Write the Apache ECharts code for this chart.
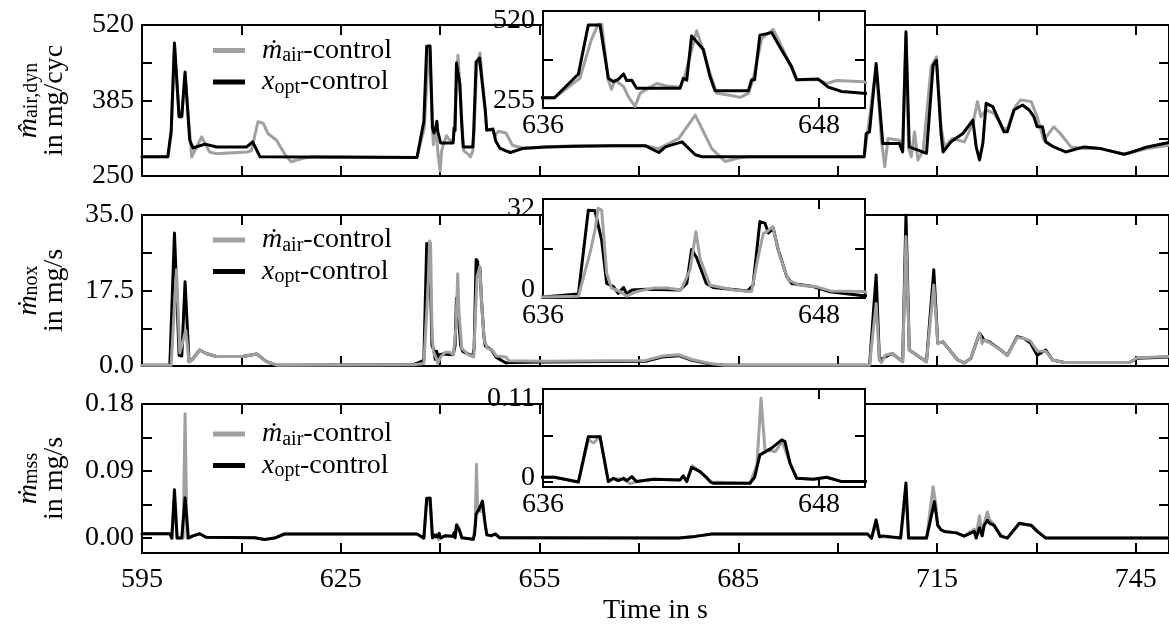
<!DOCTYPE html>
<html>
<head>
<meta charset="utf-8">
<script src="https://cdn.jsdelivr.net/npm/echarts@6/dist/echarts.min.js"></script>
<style>
  html, body { margin: 0; padding: 0; background: #fff; }
  #chart { width: 1169px; height: 626px; }
</style>
</head>
<body>
<div id="chart"></div>
<script>
// ---- time axis ----
const TIME_RANGE = [595, 750];
const TIME_TICKS = [595, 610, 625, 640, 655, 670, 685, 700, 715, 730, 745];
const TIME_LABELS = [595, 625, 655, 685, 715, 745];
const ZOOM_RANGE = [636, 650];
const ZOOM_TICKS = [636, 648];
const ZOOM_LABELS = [636, 648];

// ---- value axes ----
const AIR_RANGE = [250, 520];
const AIR_TICKS = [250, 317.5, 385, 452.5, 520];
const AIR_LABELS = [250, 385, 520];
const NOX_RANGE = [0, 35];
const NOX_TICKS = [0, 8.75, 17.5, 26.25, 35];
const NOX_LABELS = [0, 17.5, 35];
const MSS_RANGE = [-0.02, 0.18];
const MSS_TICKS = [0, 0.045, 0.09, 0.135, 0.18];
const MSS_LABELS = [0, 0.09, 0.18];

const AIR_ZOOM_RANGE = [255, 520];
const AIR_ZOOM_TICKS = [387.5];
const AIR_ZOOM_LABELS = [255, 520];
const NOX_ZOOM_RANGE = [0, 32];
const NOX_ZOOM_TICKS = [16];
const NOX_ZOOM_LABELS = [0, 32];
const MSS_ZOOM_RANGE = [-0.006, 0.11];
const MSS_ZOOM_TICKS = [0, 0.055];
const MSS_ZOOM_LABELS = [0, 0.11];

// ---- measurements: [time in s, value] ----
// dynamic air mass per cycle, mg/cyc
const AIR_MAIR = [
  [595, 284.5], [598.9, 284.5], [599.4, 325], [599.9, 480], [600.6, 356], [601.0, 356], [601.5, 430],
  [602.5, 284], [604.0, 320], [605.2, 293], [606.2, 290], [610.8, 293], [611.5, 295], [612.5, 347],
  [613.3, 344], [614.0, 326], [615.3, 314], [616.5, 290], [617.5, 275.6], [619.3, 281.6], [620.7, 284.5],
  [636.5, 283], [637.6, 336], [638.1, 441], [638.4, 484], [638.55, 484], [638.84, 331], [638.98, 306],
  [639.13, 331], [639.5, 314], [639.71, 286], [640.0, 259], [640.22, 295], [640.5, 306], [640.94, 322],
  [641.38, 315], [641.96, 312], [642.15, 339], [642.68, 466], [642.9, 426], [643.26, 350], [643.55, 295],
  [644.13, 290], [644.57, 284], [644.93, 295], [645.13, 332], [645.51, 445], [646.01, 470], [646.45, 413],
  [647.03, 332], [647.97, 332], [648.33, 322], [648.77, 330], [649.93, 327], [650.9, 305], [652.4, 300],
  [660.0, 304], [671.0, 304], [673.0, 299], [676.0, 317], [678.5, 359], [679.5, 335], [681.0, 299],
  [683.0, 276], [685.0, 282], [686.5, 284.5], [704.0, 284.5], [704.3, 310], [704.6, 308], [705.8, 445],
  [706.6, 314], [707.1, 266.6], [707.6, 317], [709.3, 314], [709.8, 295], [710.3, 500], [710.7, 300],
  [711.1, 284.5], [711.6, 329], [712.1, 278.6], [712.9, 296], [714.1, 445], [714.9, 463], [715.6, 338],
  [716.1, 302], [717.3, 317], [719.1, 311], [720.4, 344], [721.1, 383], [721.6, 356], [722.4, 368],
  [723.6, 362], [725.0, 335], [725.6, 335], [726.8, 374], [727.6, 386], [729.2, 383], [730.1, 356],
  [731.1, 314], [732.6, 338], [733.6, 326], [735.2, 302], [737.2, 299], [739.7, 299], [743.2, 289],
  [744.2, 292], [746.7, 299], [750, 305]
];
const AIR_XOPT = [
  [595, 284.5], [598.9, 284.5], [599.4, 330], [599.9, 488], [600.6, 356], [601.0, 356], [601.5, 436],
  [602.2, 314], [602.7, 300], [604.5, 307], [606.3, 302], [610.8, 302], [611.7, 311], [612.8, 284.5],
  [636.5, 283], [637.54, 348], [637.97, 482], [638.48, 482], [638.84, 336], [639.06, 327], [639.27, 333],
  [639.5, 348], [639.64, 330], [639.86, 331], [640.07, 309], [641.96, 309], [642.1, 336], [642.25, 331],
  [642.46, 452], [642.68, 436], [642.97, 415], [643.26, 341], [643.48, 302], [644.93, 302], [645.07, 332],
  [645.2, 332], [645.43, 454], [645.94, 461], [646.38, 413], [646.81, 368], [647.03, 332], [647.97, 334],
  [648.4, 312], [648.99, 300], [649.93, 295], [650.6, 292], [652.4, 299], [655.9, 302], [660.9, 303],
  [665.9, 304], [671.0, 304], [673.0, 292], [674.0, 302], [676.5, 311], [678.5, 288], [679.5, 284.5],
  [704.0, 284.5], [704.3, 326], [704.8, 329], [705.8, 451], [706.6, 338], [706.8, 308], [709.3, 308],
  [709.8, 293], [710.3, 508], [710.8, 302], [713.4, 290.6], [714.4, 448], [714.9, 457], [715.6, 326],
  [715.9, 293], [717.1, 311], [717.9, 318], [718.9, 326], [720.4, 350], [720.9, 302], [721.4, 278.6],
  [721.9, 308], [722.4, 380], [723.4, 374], [725.1, 329], [725.6, 329], [726.6, 368], [727.9, 377],
  [728.9, 368], [729.6, 356], [730.1, 338], [730.9, 338], [731.4, 311], [732.6, 302], [734.4, 293],
  [737.2, 302], [739.7, 299], [743.2, 289], [744.2, 292], [746.7, 302], [750, 310]
];
// NOx mass flow, mg/s
const NOX_MAIR = [
  [595, 0.15], [599.4, 0.15], [600.2, 22.3], [600.7, 3.0], [601.6, 8.3], [602.1, 1.0], [602.6, 1.5],
  [603.7, 3.7], [604.7, 2.9], [606.2, 2.2], [610.2, 2.2], [612.3, 2.8], [613.8, 1.0], [615.3, 0.2],
  [636.0, 0.3], [637.54, 0.6], [638.04, 14.4], [638.26, 21.9], [638.4, 29.0], [638.55, 28.4], [638.77, 8.0],
  [638.98, 3.2], [639.35, 2.1], [639.64, 0.6], [640.07, 2.1], [640.8, 3.2], [641.4, 3.2], [642.0, 2.6],
  [642.39, 9.0], [642.65, 21.4], [642.83, 12.8], [643.26, 4.1], [644.3, 2.6], [645.07, 2.1], [645.36, 13.4],
  [645.58, 20.9], [645.72, 21.4], [645.99, 23.1], [646.3, 13.4], [646.67, 5.8], [647.17, 4.1], [647.9, 3.6],
  [648.5, 2.3], [649.93, 2.1], [650.4, 1.2], [655.9, 1.1], [671.0, 1.3], [673.5, 2.3], [676.0, 2.6],
  [678.0, 1.5], [681.0, 0.5], [683.0, 0.2], [704.8, 0.2], [705.8, 14.5], [706.3, 1.4], [706.6, 0.8],
  [707.2, 2.5], [708.2, 2.9], [709.8, 1.0], [710.3, 30.0], [710.8, 3.7], [713.4, 1.0], [714.5, 18.8],
  [715.1, 5.3], [715.9, 5.6], [718.1, 1.4], [719.1, 0.7], [720.1, 1.8], [721.4, 7.6], [721.8, 5.2],
  [722.1, 6.0], [722.9, 5.4], [724.6, 3.7], [725.6, 2.5], [727.1, 6.6], [728.1, 6.4], [729.1, 5.8],
  [730.1, 3.5], [731.4, 3.4], [732.4, 1.4], [734.2, 0.8], [744.0, 0.8], [745.2, 1.9], [750, 2.2]
];
const NOX_XOPT = [
  [595, 0.15], [599.2, 0.15], [599.9, 30.8], [600.6, 2.5], [601.0, 2.3], [601.5, 19.5], [602.1, 1.0],
  [602.6, 1.5], [603.7, 3.7], [604.7, 2.9], [606.2, 2.2], [610.2, 2.2], [612.3, 2.8], [613.8, 1.0],
  [615.3, 0.2], [636.0, 0.3], [637.54, 1.3], [637.97, 28.4], [638.26, 28.2], [638.55, 18.7], [638.77, 4.7],
  [639.06, 3.7], [639.27, 1.5], [639.5, 3.4], [639.64, 1.3], [639.86, 2.6], [640.5, 2.8], [641.96, 2.6],
  [642.25, 4.7], [642.46, 15.7], [642.68, 13.0], [643.1, 4.7], [643.4, 3.4], [644.9, 2.3], [645.13, 4.1],
  [645.43, 24.7], [645.65, 24.2], [645.8, 21.0], [646.01, 22.6], [646.23, 15.5], [646.6, 6.9], [646.81, 4.7],
  [647.75, 3.7], [648.48, 2.0], [649.93, 0.7], [650.4, 0.8], [655.9, 0.9], [671.0, 1.1], [673.5, 2.1],
  [676.0, 2.4], [678.0, 1.3], [681.0, 0.4], [683.0, 0.15], [704.8, 0.15], [705.8, 21.1], [706.3, 1.4],
  [708.2, 2.9], [709.8, 1.0], [710.3, 35], [710.8, 3.7], [713.4, 1.0], [714.5, 22.3], [715.1, 5.3],
  [715.9, 5.6], [718.1, 1.4], [719.1, 0.7], [720.1, 1.8], [721.4, 7.6], [722.1, 6.0], [722.9, 5.6],
  [724.6, 3.7], [725.6, 2.5], [727.1, 6.8], [728.1, 6.4], [729.1, 5.3], [730.1, 2.5], [731.4, 3.7],
  [732.4, 1.4], [734.2, 0.8], [744.0, 0.8], [745.2, 1.8], [750, 2.1]
];
// soot mass flow, mg/s
const MSS_MAIR = [
  [595, 0.0058], [599.2, 0.0058], [599.5, 0.0], [599.9, 0.05], [600.3, 0.0], [601.2, 0.0], [601.5, 0.167],
  [601.8, 0.0], [602.7, 0.003], [603.7, 0.0058], [604.7, 0.001], [612.0, 0.0005], [613.5, -0.002],
  [615.0, 0.0], [616.5, 0.0055], [636.5, 0.0055], [637.54, 0.0], [637.97, 0.05], [638.2, 0.046],
  [638.48, 0.054], [638.84, 0.0004], [639.06, 0.004], [639.5, 0.003], [639.8, -0.002], [640.07, 0.0004],
  [640.8, 0.0032], [641.96, 0.0024], [642.1, 0.007], [642.25, 0.0004], [642.5, 0.019], [642.83, 0.012],
  [643.1, 0.0055], [643.3, 0.0], [645.0, -0.0016], [645.3, 0.02], [645.48, 0.099], [645.65, 0.0379],
  [646.1, 0.0359], [646.4, 0.048], [646.74, 0.022], [647.03, 0.0043], [647.75, 0.0032], [648.33, 0.0055],
  [648.99, 0.0004], [649.93, 0.0004], [676.0, 0.0], [678.5, 0.0023], [681.0, 0.0054], [704.5, 0.0055],
  [705.1, 0.0], [705.8, 0.02], [706.3, 0.0018], [709.5, 0.0], [710.3, 0.06], [710.7, 0.0], [713.4, 0.0],
  [714.4, 0.069], [714.8, 0.045], [715.1, 0.017], [715.6, 0.011], [716.1, 0.009], [717.9, 0.007],
  [719.1, 0.0027], [720.6, 0.012], [720.9, 0.004], [721.4, 0.03], [721.8, 0.006], [722.1, 0.02],
  [722.6, 0.035], [722.9, 0.025], [723.6, 0.018], [724.6, 0.004], [725.6, 0.0], [727.4, 0.019],
  [729.2, 0.018], [730.1, 0.01], [731.4, 0.0], [750, 0.0]
];
const MSS_XOPT = [
  [595, 0.0058], [599.2, 0.0058], [599.5, 0.0], [599.9, 0.065], [600.3, 0.0], [601.0, 0.0], [601.5, 0.054],
  [602.0, 0.0], [602.7, 0.003], [603.7, 0.0058], [604.7, 0.001], [612.0, 0.0005], [613.5, -0.002],
  [615.0, 0.0], [616.5, 0.0055], [636.5, 0.0055], [637.54, 0.0], [637.97, 0.0536], [638.48, 0.0536],
  [638.84, 0.0004], [639.06, 0.0043], [639.27, 0.0016], [639.5, 0.0043], [639.64, 0.0016], [639.86, 0.0063],
  [640.07, 0.0004], [640.8, 0.0032], [641.96, 0.0024], [642.1, 0.0071], [642.25, 0.0004], [642.46, 0.0174],
  [642.83, 0.0122], [643.1, 0.0055], [643.26, 0.0004], [643.4, -0.0016], [645.0, -0.0016], [645.2, 0.0055],
  [645.43, 0.032], [645.94, 0.040], [646.38, 0.0497], [646.52, 0.0477], [646.74, 0.0221], [647.03, 0.0043],
  [647.75, 0.0032], [648.33, 0.0055], [648.99, 0.0004], [649.93, 0.0004], [676.0, 0.0], [678.5, 0.0023],
  [681.0, 0.0054], [704.5, 0.0055], [705.1, 0.0], [705.8, 0.0245], [706.3, 0.0018], [706.8, 0.003],
  [709.5, 0.0], [710.3, 0.074], [710.7, 0.0], [713.4, 0.0], [714.6, 0.049], [715.1, 0.017], [715.6, 0.011],
  [716.1, 0.009], [717.9, 0.007], [719.1, 0.0027], [720.6, 0.009], [720.9, 0.0], [721.4, 0.014],
  [721.8, 0.003], [722.1, 0.017], [722.6, 0.024], [722.9, 0.02], [723.6, 0.017], [724.6, 0.0027],
  [725.6, 0.0], [727.4, 0.02], [729.2, 0.017], [730.1, 0.009], [731.4, 0.0], [750, 0.0]
];

const MAIR_NAME = 'ṁair-control';
const XOPT_NAME = 'xopt-control';

// ---- styling ----
const SERIF = '"Liberation Serif", "Times New Roman", "DejaVu Serif", serif';
const GRAY = '#a0a0a0';
const BLACK = '#000000';
const FS = 28;

const richBase = {
  i: { fontFamily: SERIF, fontStyle: 'italic', fontSize: FS, lineHeight: 26, color: BLACK },
  s: { fontFamily: SERIF, fontSize: 20, lineHeight: 10, verticalAlign: 'bottom', color: BLACK },
  n: { fontFamily: SERIF, fontSize: FS, lineHeight: 26, color: BLACK }
};

// panel boxes (px)
const MAIN = [
  { top: 25, height: 151 },
  { top: 215, height: 151 },
  { top: 404, height: 151 }
];
const INSET = [
  { top: 11, height: 97 },
  { top: 199, height: 99 },
  { top: 389, height: 98 }
];

const grids = [];
const xAxes = [];
const yAxes = [];
const series = [];

function axisLineStyle() { return { show: true, onZero: false, lineStyle: { color: BLACK, width: 2 } }; }
function ticks(values) {
  return { show: true, inside: true, length: 10, customValues: values, lineStyle: { color: BLACK, width: 2 } };
}

function addPanel(opts) {
  const gi = grids.length;
  grids.push({
    left: opts.left, width: opts.width, right: opts.right, top: opts.top, height: opts.height,
    containLabel: false, z: opts.z, show: opts.inset, backgroundColor: '#fff', borderWidth: 0
  });
  const az = opts.z + 1;
  // bottom / top time axes
  xAxes.push({
    type: 'value', gridIndex: gi, position: 'bottom', min: opts.xr[0], max: opts.xr[1], z: az,
    axisLine: axisLineStyle(), axisTick: ticks(opts.xt), splitLine: { show: false },
    axisLabel: {
      show: true, customValues: opts.xl, margin: opts.xMargin,
      fontFamily: SERIF, fontSize: FS, color: BLACK, formatter: v => String(v)
    },
    name: opts.xName || '', nameLocation: 'middle', nameGap: 44,
    nameTextStyle: { fontFamily: SERIF, fontSize: FS, color: BLACK }
  });
  xAxes.push({
    type: 'value', gridIndex: gi, position: 'top', min: opts.xr[0], max: opts.xr[1], z: az,
    axisLine: axisLineStyle(), axisTick: ticks(opts.xt), axisLabel: { show: false }, splitLine: { show: false }
  });
  // left / right value axes
  yAxes.push({
    type: 'value', gridIndex: gi, position: 'left', min: opts.yr[0], max: opts.yr[1], z: az,
    axisLine: axisLineStyle(), axisTick: ticks(opts.yt), splitLine: { show: false },
    axisLabel: {
      show: true, customValues: opts.yl, margin: 8,
      fontFamily: SERIF, fontSize: FS, color: BLACK,
      formatter: opts.yFmt, rich: opts.yRich || {}
    },
    name: opts.yName || '', nameLocation: 'middle', nameRotate: 90, nameGap: 74,
    nameTextStyle: { fontFamily: SERIF, fontSize: FS, color: BLACK, align: 'center', rich: richBase }
  });
  yAxes.push({
    type: 'value', gridIndex: gi, position: 'right', min: opts.yr[0], max: opts.yr[1], z: az,
    axisLine: axisLineStyle(), axisTick: ticks(opts.yt), axisLabel: { show: false }, splitLine: { show: false }
  });
  const xi = 2 * gi;
  const yi = 2 * gi;
  const mk = (name, data, color, z) => ({
    type: 'line', name, data, xAxisIndex: xi, yAxisIndex: yi, symbol: 'none', showSymbol: false,
    lineStyle: { color, width: 3, join: 'round', cap: 'round' }, itemStyle: { color },
    z, clip: true, animation: false, silent: true
  });
  series.push(mk(MAIR_NAME, opts.gray, GRAY, opts.z + 2 + (opts.grayOnTop ? 1 : 0)));
  series.push(mk(XOPT_NAME, opts.black, BLACK, opts.z + 2 + (opts.grayOnTop ? 0 : 1)));
}

// inset value labels sit slightly inside the box
function insetFmt(lo, hi, toText) {
  return v => (Math.abs(v - hi) < 1e-9 ? '{hi|' + toText(v) + '}' : '{lo|' + toText(v) + '}');
}
function insetRich(padLo) {
  return {
    hi: { fontFamily: SERIF, fontSize: FS, color: BLACK, padding: [20, 0, 0, 0] },
    lo: { fontFamily: SERIF, fontSize: FS, color: BLACK, padding: [0, 0, padLo, 0] }
  };
}

const mainCommon = { left: 142, right: -2, xr: TIME_RANGE, xt: TIME_TICKS, z: 0, inset: false, xMargin: 13 };
const insetCommon = { left: 543, width: 322, xr: ZOOM_RANGE, xt: ZOOM_TICKS, xl: ZOOM_LABELS, z: 10, inset: true, xMargin: 4 };

addPanel(Object.assign({}, mainCommon, MAIN[0], {
  yr: AIR_RANGE, yt: AIR_TICKS, yl: AIR_LABELS, yFmt: v => String(v), xl: [],
  yName: '{i|m\u0302}{s|air,dyn}\n{n|in mg/cyc}', gray: AIR_MAIR, black: AIR_XOPT, grayOnTop: false
}));
addPanel(Object.assign({}, mainCommon, MAIN[1], {
  yr: NOX_RANGE, yt: NOX_TICKS, yl: NOX_LABELS, yFmt: v => v.toFixed(1), xl: [],
  yName: '{i|ṁ}{s|nox}\n{n|in mg/s}', gray: NOX_MAIR, black: NOX_XOPT, grayOnTop: true
}));
addPanel(Object.assign({}, mainCommon, MAIN[2], {
  yr: MSS_RANGE, yt: MSS_TICKS, yl: MSS_LABELS, yFmt: v => v.toFixed(2), xl: TIME_LABELS,
  xName: 'Time in s',
  yName: '{i|ṁ}{s|mss}\n{n|in mg/s}', gray: MSS_MAIR, black: MSS_XOPT, grayOnTop: false
}));
addPanel(Object.assign({}, insetCommon, INSET[0], {
  yr: AIR_ZOOM_RANGE, yt: AIR_ZOOM_TICKS, yl: AIR_ZOOM_LABELS,
  yFmt: insetFmt(255, 520, v => String(v)), yRich: insetRich(14),
  gray: AIR_MAIR, black: AIR_XOPT, grayOnTop: false
}));
addPanel(Object.assign({}, insetCommon, INSET[1], {
  yr: NOX_ZOOM_RANGE, yt: NOX_ZOOM_TICKS, yl: NOX_ZOOM_LABELS,
  yFmt: insetFmt(0, 32, v => String(v)), yRich: insetRich(16),
  gray: NOX_MAIR, black: NOX_XOPT, grayOnTop: true
}));
addPanel(Object.assign({}, insetCommon, INSET[2], {
  yr: MSS_ZOOM_RANGE, yt: MSS_ZOOM_TICKS, yl: MSS_ZOOM_LABELS,
  yFmt: insetFmt(0, 0.11, v => String(v)), yRich: insetRich(8),
  gray: MSS_MAIR, black: MSS_XOPT, grayOnTop: false
}));

// one legend per main panel
const legendRich = {
  g: { width: 12 },
  i: { fontFamily: SERIF, fontStyle: 'italic', fontSize: FS, lineHeight: 31, color: BLACK },
  s: { fontFamily: SERIF, fontSize: 20, lineHeight: 15, verticalAlign: 'bottom', color: BLACK },
  n: { fontFamily: SERIF, fontSize: FS, lineHeight: 31, color: BLACK }
};
const legends = [36.5, 226, 420].map(top => ({
  left: 213, top, orient: 'vertical', itemGap: 2, padding: 0,
  itemWidth: 32, itemHeight: 5, icon: 'rect', selectedMode: false,
  data: [MAIR_NAME, XOPT_NAME],
  formatter: name => name === MAIR_NAME
    ? '{g|}{i|ṁ}{s|air}{n|-control}'
    : '{g|}{i|x}{s|opt}{n|-control}',
  textStyle: { fontFamily: SERIF, fontSize: FS, color: BLACK, rich: legendRich },
  z: 5
}));

const chart = echarts.init(document.getElementById('chart'), null, { renderer: 'canvas' });
chart.setOption({
  animation: false,
  backgroundColor: '#fff',
  grid: grids,
  xAxis: xAxes,
  yAxis: yAxes,
  legend: legends,
  series: series
});
</script>
</body>
</html>
